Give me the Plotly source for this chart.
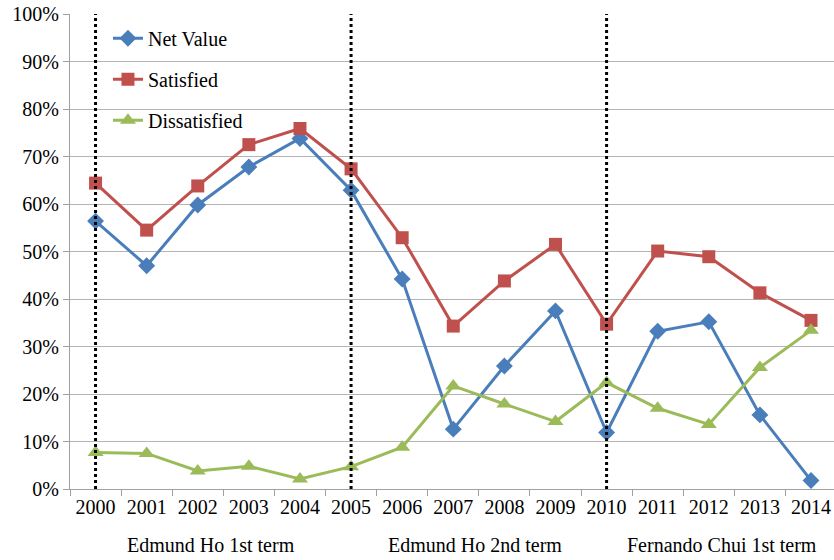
import plotly.graph_objects as go

years = ["2000", "2001", "2002", "2003", "2004", "2005", "2006", "2007",
         "2008", "2009", "2010", "2011", "2012", "2013", "2014"]
net_value = [56.4, 47.0, 59.8, 67.8, 73.8, 62.9, 44.2, 12.6, 25.9, 37.5, 11.9, 33.2, 35.2, 15.6, 1.8]
satisfied = [64.4, 54.5, 63.8, 72.5, 75.9, 67.4, 52.9, 34.3, 43.8, 51.5, 34.7, 50.1, 48.9, 41.3, 35.5]
dissatisfied = [7.7, 7.5, 3.8, 4.8, 2.1, 4.7, 8.8, 21.7, 17.9, 14.2, 22.4, 17.0, 13.6, 25.6, 33.4]
term_start_idx = [0, 5, 10]
term_labels = ["Edmund Ho 1st term", "Edmund Ho 2nd term", "Fernando Chui 1st term"]
term_label_pos = [2.25, 7.43, 12.25]
y_ticks = [0, 0.1, 0.2, 0.3, 0.4, 0.5, 0.6, 0.7, 0.8, 0.9, 1.0]
y_tick_text = ["0%", "10%", "20%", "30%", "40%", "50%", "60%", "70%", "80%", "90%", "100%"]

FONT = "Liberation Serif, Times New Roman, serif"

fig = go.Figure()
series = [
    ("Net Value", net_value, "#4A7EBB", "diamond", 13),
    ("Satisfied", satisfied, "#C0504D", "square", 13),
    ("Dissatisfied", dissatisfied, "#9BBB59", "triangle-up", 14),
]
for i, (name, vals, col, sym, sz) in enumerate(series):
    fig.add_trace(go.Scatter(
        x=list(range(len(years))), y=[v / 100 for v in vals], name=name,
        mode="lines+markers",
        line=dict(color=col, width=3),
        marker=dict(symbol=sym, size=sz, color=col),
        legendgroup=f"g{i}",
    ))

for t in term_start_idx:
    fig.add_shape(type="line", xref="x", yref="y", x0=t, x1=t, y0=0, y1=1,
                  line=dict(color="black", width=3, dash="dot"))

for lab, pos in zip(term_labels, term_label_pos):
    fig.add_annotation(text=lab, xref="x", yref="paper", x=pos, y=-0.118,
                       showarrow=False, yanchor="middle",
                       font=dict(family=FONT, size=20, color="black"))

boundaries = [b - 0.5 for b in range(len(years) + 1)]

fig.update_layout(
    width=834, height=560,
    margin=dict(l=70, r=0, t=14, b=71),
    paper_bgcolor="white", plot_bgcolor="white",
    font=dict(family=FONT, size=20, color="black"),
    showlegend=True,
    legend=dict(x=0.0497, y=0.99, xanchor="left", yanchor="top",
                bgcolor="rgba(0,0,0,0)", tracegroupgap=12,
                font=dict(family=FONT, size=20, color="black")),
    xaxis=dict(range=[-0.5, 14.45], showgrid=False,
               tickmode="array", tickvals=list(range(len(years))), ticktext=years,
               ticks="", showline=True, linecolor="#a0a0a0",
               linewidth=1, zeroline=False, tickfont=dict(family=FONT, size=20),
               minor=dict(tickmode="array", tickvals=boundaries, ticks="outside",
                          ticklen=6, tickcolor="#a0a0a0", showgrid=False)),
    yaxis=dict(range=[0, 1], tickmode="array", tickvals=y_ticks, ticktext=y_tick_text,
               showgrid=True, gridcolor="#b4b4b4", gridwidth=1,
               showline=True, linecolor="#a0a0a0", linewidth=1,
               ticks="outside", ticklen=6, tickcolor="#a0a0a0",
               zeroline=False, tickfont=dict(family=FONT, size=20)),
)

fig.write_html("out.html", config={"displayModeBar": False},
               post_script="document.body.style.margin='0';document.body.style.padding='0';")
